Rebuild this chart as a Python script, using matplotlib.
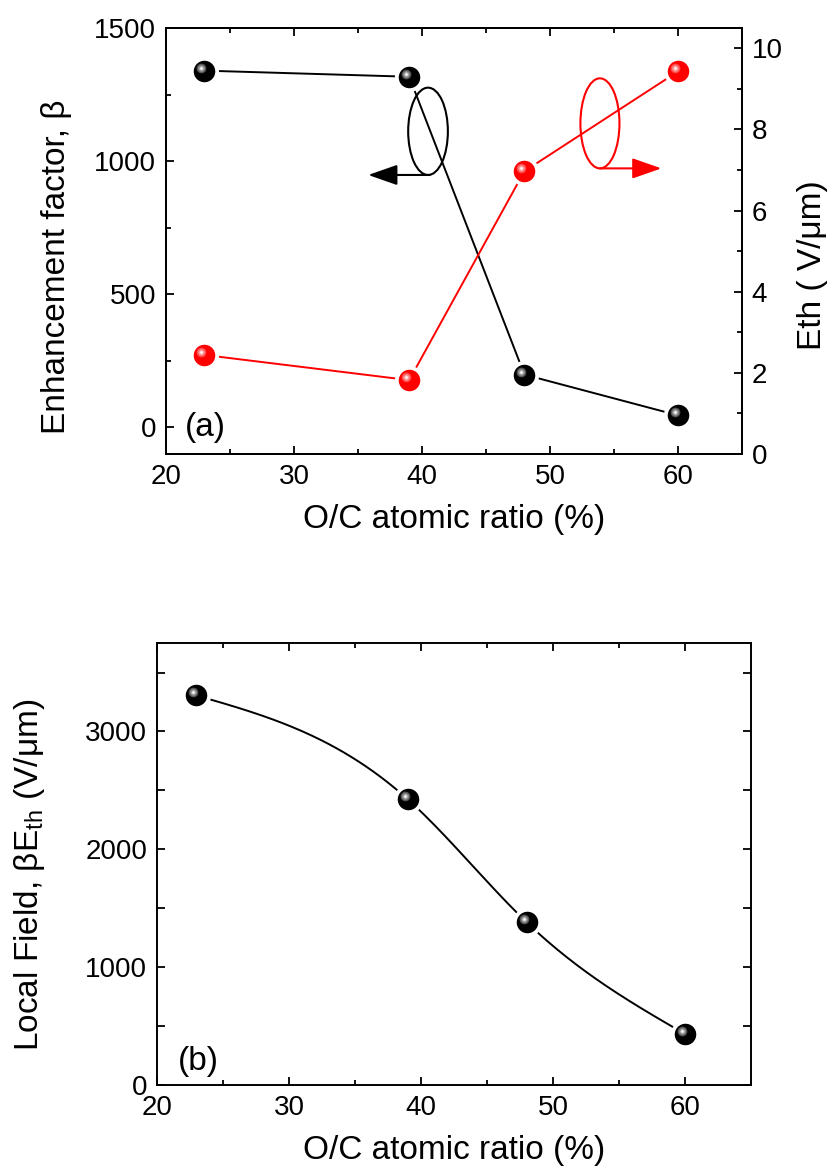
import numpy as np
import matplotlib
matplotlib.use('Agg')
import matplotlib.pyplot as plt
from matplotlib.patches import Ellipse
from matplotlib.transforms import ScaledTranslation

plt.rcParams['font.family'] = ['Liberation Sans', 'DejaVu Sans']
plt.rcParams['mathtext.fontset'] = 'custom'
plt.rcParams['mathtext.rm'] = 'Liberation Sans'
plt.rcParams['mathtext.it'] = 'Liberation Sans:italic'

# panel (a)
ratio_a = [23, 39, 48, 60]
beta = [1340, 1317, 198, 45]
eth = [2.44, 1.82, 6.97, 9.43]

# panel (b)
ratio_b = [23, 39, 48, 60]
local_field = [3305, 2424, 1381, 432]

TICK_FS = 20
LABEL_FS = 24


def natural_spline(x, y, xs):
    # plain natural cubic spline, used for the smooth line in (b)
    x = np.asarray(x, float)
    y = np.asarray(y, float)
    n = len(x)
    h = np.diff(x)
    A = np.zeros((n, n))
    r = np.zeros(n)
    A[0, 0] = A[-1, -1] = 1
    for i in range(1, n - 1):
        A[i, i - 1] = h[i - 1]
        A[i, i] = 2 * (h[i - 1] + h[i])
        A[i, i + 1] = h[i]
        r[i] = 6 * ((y[i + 1] - y[i]) / h[i] - (y[i] - y[i - 1]) / h[i - 1])
    M = np.linalg.solve(A, r)
    out = np.empty_like(xs)
    for k, xv in enumerate(xs):
        i = min(np.searchsorted(x, xv) - 1, n - 2)
        i = max(i, 0)
        t0 = x[i + 1] - xv
        t1 = xv - x[i]
        out[k] = (M[i] * t0 ** 3 + M[i + 1] * t1 ** 3) / (6 * h[i]) \
            + (y[i] / h[i] - M[i] * h[i] / 6) * t0 \
            + (y[i + 1] / h[i] - M[i + 1] * h[i] / 6) * t1
    return out


def draw_balls(fig, ax, x, y, base, shades):
    # white halo so the line stops short of the ball
    ax.plot(x, y, 'o', ms=21, mfc='white', mec='none', zorder=4)
    ax.plot(x, y, 'o', ms=15.5, mfc=base, mec='none', zorder=5)
    off = ax.transData + ScaledTranslation(-0.03, 0.03, fig.dpi_scale_trans)
    for size, col in zip([7, 5, 3, 1.5], shades):
        ax.plot(x, y, 'o', ms=size, mfc=col, mec='none', transform=off, zorder=6)


def style_axis(ax):
    for sp in ax.spines.values():
        sp.set_linewidth(1.4)
    ax.tick_params(which='major', direction='in', length=6, width=1.3,
                   labelsize=TICK_FS, pad=7)
    ax.tick_params(which='minor', direction='in', length=3.5, width=1.3)


fig = plt.figure(figsize=(8.3, 11.73), dpi=100)

# ---------- (a) ----------
ax = fig.add_axes([0.2, 0.613, 0.694, 0.3631])
ax.plot(ratio_a, beta, '-', color='black', lw=1.4, zorder=3)
draw_balls(fig, ax, ratio_a, beta, 'black', ['#555555', '#8a8a8a', '#c8c8c8', 'white'])
ax.set_xlim(20, 65)
ax.set_ylim(-100, 1500)
ax.set_xticks([20, 30, 40, 50, 60])
ax.set_xticks(np.arange(25, 66, 10), minor=True)
ax.set_yticks([0, 500, 1000, 1500])
ax.set_yticks([250, 750, 1250], minor=True)
style_axis(ax)
ax.tick_params(which='both', top=True, right=False)
ax.set_xlabel('O/C atomic ratio (%)', fontsize=LABEL_FS, labelpad=10)
ax.set_ylabel('Enhancement factor, β', fontsize=LABEL_FS)
ax.yaxis.set_label_coords(-0.163, 0.439)
ax.text(0.033, 0.063, '(a)', transform=ax.transAxes, fontsize=LABEL_FS, va='center')

ax.add_patch(Ellipse((40.47, 1112), 3.1, 328, fill=False, ec='black', lw=1.5, zorder=7))
ax.annotate('', xy=(35.8, 948), xytext=(40.6, 948),
            arrowprops=dict(arrowstyle='-|>,head_length=1.0,head_width=0.35',
                            color='black', lw=1.5, shrinkA=0, shrinkB=0,
                            mutation_scale=18), zorder=7)

ax2 = ax.twinx()
ax2.plot(ratio_a, eth, '-', color='red', lw=1.4, zorder=3)
draw_balls(fig, ax2, ratio_a, eth, 'red', ['#ff4a4a', '#ff8080', '#ffc4c4', 'white'])
ax2.set_ylim(0, 10.5)
ax2.set_yticks([0, 2, 4, 6, 8, 10])
ax2.set_yticks([1, 3, 5, 7, 9], minor=True)
style_axis(ax2)
ax2.tick_params(which='both', left=False, top=False, bottom=False)
ax2.set_ylabel('Eth ( V/μm)', fontsize=LABEL_FS)
ax2.yaxis.set_label_coords(1.095, 0.443)

ax2.add_patch(Ellipse((53.9, 8.15), 3.05, 2.22, fill=False, ec='red', lw=1.5, zorder=7))
ax2.annotate('', xy=(58.7, 7.04), xytext=(53.9, 7.04),
             arrowprops=dict(arrowstyle='-|>,head_length=1.0,head_width=0.35',
                             color='red', lw=1.5, shrinkA=0, shrinkB=0,
                             mutation_scale=18), zorder=7)

# ---------- (b) ----------
bx = fig.add_axes([0.189, 0.075, 0.716, 0.3768])
xs = np.linspace(min(ratio_b), max(ratio_b), 200)
bx.plot(xs, natural_spline(ratio_b, local_field, xs), '-', color='black', lw=1.4, zorder=3)
draw_balls(fig, bx, ratio_b, local_field, 'black', ['#555555', '#8a8a8a', '#c8c8c8', 'white'])
bx.set_xlim(20, 65)
bx.set_ylim(0, 3750)
bx.set_xticks([20, 30, 40, 50, 60])
bx.set_xticks(np.arange(25, 66, 10), minor=True)
bx.set_yticks([0, 1000, 2000, 3000])
bx.set_yticks([500, 1500, 2500, 3500], minor=True)
style_axis(bx)
bx.tick_params(which='both', top=True, right=True)
bx.tick_params(axis='y', which='minor', length=6)
bx.set_xlabel('O/C atomic ratio (%)', fontsize=LABEL_FS, labelpad=10)
bx.set_ylabel(r'Local Field, βE$_{\mathregular{th}}$ (V/μm)', fontsize=LABEL_FS)
bx.yaxis.set_label_coords(-0.185, 0.475)
bx.text(0.035, 0.054, '(b)', transform=bx.transAxes, fontsize=LABEL_FS, va='center')

fig.savefig('out.png', dpi=100)
